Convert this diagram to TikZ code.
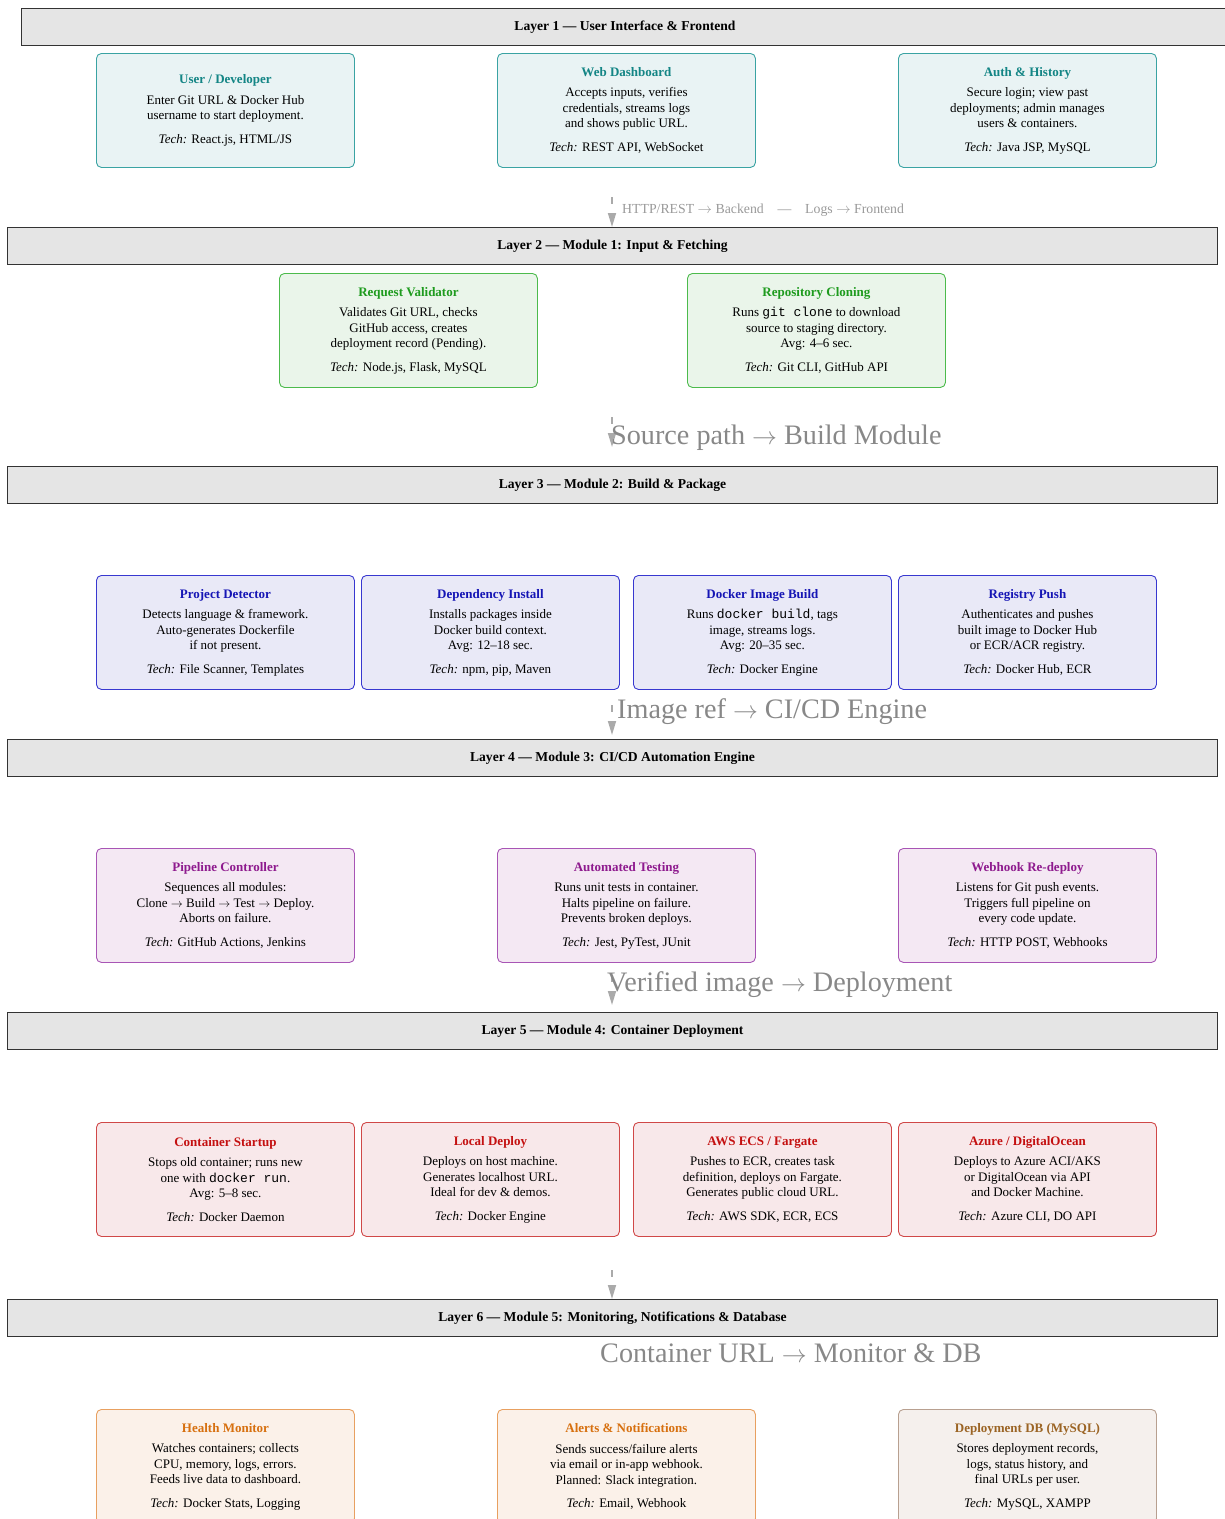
\documentclass[tikz,border=0pt]{standalone}
\usepackage{fontspec}
\setmainfont{Liberation Serif}
\setmonofont{Liberation Mono}
\usetikzlibrary{arrows.meta}
\definecolor{barfill}{HTML}{E5E5E5}
\definecolor{barline}{HTML}{333333}
\definecolor{tealB}{HTML}{3AA3A3}\definecolor{tealF}{HTML}{E9F3F4}\definecolor{tealT}{HTML}{138585}
\definecolor{grnB}{HTML}{4CBB4C}\definecolor{grnF}{HTML}{EAF5EA}\definecolor{grnT}{HTML}{1E9B1E}
\definecolor{bluB}{HTML}{3838D0}\definecolor{bluF}{HTML}{E9E9F7}\definecolor{bluT}{HTML}{1515B5}
\definecolor{purB}{HTML}{A855B5}\definecolor{purF}{HTML}{F4E8F3}\definecolor{purT}{HTML}{8E1A8E}
\definecolor{redB}{HTML}{D04848}\definecolor{redF}{HTML}{F8E8EA}\definecolor{redT}{HTML}{C41010}
\definecolor{orgB}{HTML}{E8A060}\definecolor{orgF}{HTML}{FBF1E9}\definecolor{orgT}{HTML}{D7700F}
\definecolor{brnB}{HTML}{B8A090}\definecolor{brnF}{HTML}{F5F0ED}\definecolor{brnT}{HTML}{9B6424}
\definecolor{flowgray}{HTML}{AAAAAA}
\definecolor{labgray}{HTML}{888888}
\definecolor{smallgray}{HTML}{999999}
\newcommand{\cardtext}[4]{{\bfseries\color{#1}#2}\\[5pt]#3\\[8pt]\textit{Tech:} #4}
\newcommand{\ra}{$\rightarrow$}
\begin{document}
\begin{tikzpicture}[x=1pt,y=-1pt,
  bar/.style={draw=barline, fill=barfill, line width=1pt, rectangle, anchor=north west,
    minimum width=1210pt, minimum height=37pt, font=\fontsize{13.6}{15}\selectfont\bfseries},
  card/.style={draw, rounded corners=5pt, line width=0.9pt, rectangle, anchor=north west,
    minimum width=258pt, minimum height=114pt, align=center, inner sep=2pt,
    font=\fontsize{13}{15.5}\selectfont},
  teal/.style={card, draw=tealB, fill=tealF},
  grn/.style={card, draw=grnB, fill=grnF},
  blu/.style={card, draw=bluB, fill=bluF},
  pur/.style={card, draw=purB, fill=purF},
  redc/.style={card, draw=redB, fill=redF},
  org/.style={card, draw=orgB, fill=orgF},
  brn/.style={card, draw=brnB, fill=brnF},
  flow/.style={draw=flowgray, line width=1.6pt, dash pattern=on 7pt off 9pt,
    -{Triangle[width=8pt,length=14pt]}},
  biglab/.style={anchor=west, inner sep=0pt, text=labgray, font=\fontsize{28.2}{31}\selectfont},
  smalllab/.style={anchor=west, inner sep=0pt, text=smallgray, font=\fontsize{13.8}{15}\selectfont}
]
\useasboundingbox (0,0) rectangle (1225,1519);
\clip (0,0) rectangle (1225,1519);

% Layer bars
\node[bar, minimum width=1207pt] (L1) at (21,8) {Layer 1 — User Interface \& Frontend};
\node[bar] (L2) at (7,227) {Layer 2 — Module 1: Input \& Fetching};
\node[bar] (L3) at (7,466) {Layer 3 — Module 2: Build \& Package};
\node[bar] (L4) at (7,739) {Layer 4 — Module 3: CI/CD Automation Engine};
\node[bar] (L5) at (7,1012) {Layer 5 — Module 4: Container Deployment};
\node[bar] (L6) at (7,1299) {Layer 6 — Module 5: Monitoring, Notifications \& Database};

% Layer 1
\node[teal] (ud) at (96,53) {\cardtext{tealT}{User / Developer}{Enter Git URL \& Docker Hub\\username to start deployment.}{React.js, HTML/JS}};
\node[teal] (wd) at (497,53) {\cardtext{tealT}{Web Dashboard}{Accepts inputs, verifies\\credentials, streams logs\\and shows public URL.}{REST API, WebSocket}};
\node[teal] (ah) at (898,53) {\cardtext{tealT}{Auth \& History}{Secure login; view past\\deployments; admin manages\\users \& containers.}{Java JSP, MySQL}};

% Layer 2
\node[grn] (rv) at (279,273) {\cardtext{grnT}{Request Validator}{Validates Git URL, checks\\GitHub access, creates\\deployment record (Pending).}{Node.js, Flask, MySQL}};
\node[grn] (rc) at (687,273) {\cardtext{grnT}{Repository Cloning}{Runs \texttt{git clone} to download\\source to staging directory.\\Avg: 4–6 sec.}{Git CLI, GitHub API}};

% Layer 3
\node[blu] (pd) at (96,575) {\cardtext{bluT}{Project Detector}{Detects language \& framework.\\Auto-generates Dockerfile\\if not present.}{File Scanner, Templates}};
\node[blu] (di) at (361,575) {\cardtext{bluT}{Dependency Install}{Installs packages inside\\Docker build context.\\Avg: 12–18 sec.}{npm, pip, Maven}};
\node[blu] (dib) at (633,575) {\cardtext{bluT}{Docker Image Build}{Runs \texttt{docker build}, tags\\image, streams logs.\\Avg: 20–35 sec.}{Docker Engine}};
\node[blu] (rp) at (898,575) {\cardtext{bluT}{Registry Push}{Authenticates and pushes\\built image to Docker Hub\\or ECR/ACR registry.}{Docker Hub, ECR}};

% Layer 4
\node[pur] (pc) at (96,848) {\cardtext{purT}{Pipeline Controller}{Sequences all modules:\\Clone \ra{} Build \ra{} Test \ra{} Deploy.\\Aborts on failure.}{GitHub Actions, Jenkins}};
\node[pur] (at) at (497,848) {\cardtext{purT}{Automated Testing}{Runs unit tests in container.\\Halts pipeline on failure.\\Prevents broken deploys.}{Jest, PyTest, JUnit}};
\node[pur] (wr) at (898,848) {\cardtext{purT}{Webhook Re-deploy}{Listens for Git push events.\\Triggers full pipeline on\\every code update.}{HTTP POST, Webhooks}};

% Layer 5
\node[redc] (cs) at (96,1122) {\cardtext{redT}{Container Startup}{Stops old container; runs new\\one with \texttt{docker run}.\\Avg: 5–8 sec.}{Docker Daemon}};
\node[redc] (ld) at (361,1122) {\cardtext{redT}{Local Deploy}{Deploys on host machine.\\Generates localhost URL.\\Ideal for dev \& demos.}{Docker Engine}};
\node[redc] (aws) at (633,1122) {\cardtext{redT}{AWS ECS / Fargate}{Pushes to ECR, creates task\\definition, deploys on Fargate.\\Generates public cloud URL.}{AWS SDK, ECR, ECS}};
\node[redc] (az) at (898,1122) {\cardtext{redT}{Azure / DigitalOcean}{Deploys to Azure ACI/AKS\\or DigitalOcean via API\\and Docker Machine.}{Azure CLI, DO API}};

% Layer 6
\node[org] (hm) at (96,1409) {\cardtext{orgT}{Health Monitor}{Watches containers; collects\\CPU, memory, logs, errors.\\Feeds live data to dashboard.}{Docker Stats, Logging}};
\node[org] (an) at (497,1409) {\cardtext{orgT}{Alerts \& Notifications}{Sends success/failure alerts\\via email or in-app webhook.\\Planned: Slack integration.}{Email, Webhook}};
\node[brn] (db) at (898,1409) {\cardtext{brnT}{Deployment DB (MySQL)}{Stores deployment records,\\logs, status history, and\\final URLs per user.}{MySQL, XAMPP}};

% Flow arrows between layers
\coordinate (f1) at (612,197);
\coordinate (f2) at (612,417);  \coordinate (e2) at (612,447);
\coordinate (f3) at (612,705);  \coordinate (e3) at (612,735);
\coordinate (f4) at (612,975);  \coordinate (e4) at (612,1005);
\coordinate (f5) at (612,1270);
\draw[flow] (f1) -- (f1 |- L2.north);
\draw[flow] (f2) -- (e2);
\draw[flow] (f3) -- (e3);
\draw[flow] (f4) -- (e4);
\draw[flow] (f5) -- (f5 |- L6.north);

% Labels
\node[smalllab] (t1) at (622,210) {HTTP/REST \ra{} Backend\quad—\quad Logs \ra{} Frontend};
\node[biglab] (t2) at (611,438) {Source path \ra{} Build Module};
\node[biglab] (t3) at (617,712) {Image ref \ra{} CI/CD Engine};
\node[biglab] (t4) at (607,985) {Verified image \ra{} Deployment};
\node[biglab] (t5) at (600,1353) {Container URL \ra{} Monitor \& DB};
\end{tikzpicture}
\end{document}
